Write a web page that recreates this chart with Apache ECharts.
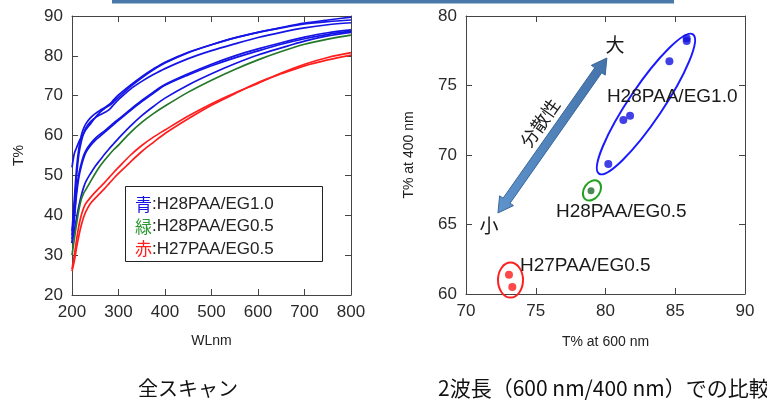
<!DOCTYPE html>
<html>
<head>
<meta charset="utf-8">
<script src="https://cdn.jsdelivr.net/npm/echarts@6/dist/echarts.min.js"></script>
<style>
html,body{margin:0;padding:0;background:#fff;}
#c{width:767px;height:401px;}
</style>
</head>
<body>
<div id="c"></div>
<script>
// ---------- data ----------
const WL = [200,205,210,215,220,225,230,240,250,260,270,280,290,300,325,350,375,400,450,500,550,600,650,700,750,800];
// blue: H28PAA/EG1.0
const blueA = [36,44,52,57,60,61.8,63,64.5,65.5,66.3,67,67.8,69,70.2,72.6,74.8,76.7,78.4,80.9,82.8,84.5,85.9,87.1,88.2,89.0,89.7];
const blueB = [52,55.5,57,58.5,59.5,60.5,61.5,63,64.5,65.8,66.8,67.5,68.5,69.6,72.2,74.5,76.5,78.2,80.8,82.8,84.5,85.9,87.0,88.0,88.6,89.0];
const blueC = [35,42,50,55.5,58.5,60.5,62,63.5,64.5,65.2,65.8,66.5,67.8,69,71.6,73.6,75.3,76.8,79.3,81.3,83,84.6,85.9,87,87.8,88.3];
const blueD = [34,40,46.5,50.5,53,55,56.3,58,59.3,60.3,61.2,62.2,63.2,64.1,66.5,68.8,70.9,72.8,75.5,77.9,80,81.75,83.3,84.7,85.8,86.5];
const blueE = [33,39,45.5,49.7,52.3,54.3,55.8,57.5,58.8,59.8,60.8,61.8,62.8,63.8,66.2,68.5,70.6,72.6,75.2,77.5,79.5,81.25,82.9,84.3,85.4,86.2];
const blueF = [33,36,39.5,42.5,45,47,48.5,50.5,52.3,53.8,55.3,56.7,58,59.3,62.3,65,67.3,69.4,72.7,75.5,78,80.2,82,83.7,85,85.9];
// green: H28PAA/EG0.5
const greenA = [30,34,38,41.5,44,45.5,46.5,48.5,50.5,52.3,53.8,55.2,56.5,57.6,60.7,63.3,65.5,67.4,70.9,73.9,76.6,79.0,81.1,82.9,84.2,85.2];
// red: H27PAA/EG0.5
const redA = [26.5,30,34,37.5,40,41.8,43,44.5,45.8,47,48.2,49.5,50.8,52,55,57.5,59.6,61.4,64.9,68,70.7,73.1,75.7,77.9,79.6,80.8];
const redB = [26,28.5,32,35,37.5,39.5,41,43,44.3,45.5,46.7,48,49.3,50.5,53.3,56,58.3,60.5,64.2,67.6,70.5,73.3,75.5,77.5,79.0,80.2];

// scatter: T% at 600 nm (x) vs T% at 400 nm (y)
const blue600 = [85.82,85.82,84.58,81.76,81.28,80.2];
const blue400 = [78.4,78.2,76.74,72.83,72.52,69.35];
const green600 = [78.96];
const green400 = [67.43];
const red600 = [73.08,73.32];
const red400 = [61.39,60.5];

// annotation anchors (data coords of right chart)
const ellipseCenters = [[82.9,73.67],[79.03,67.45],[73.19,61.0]];
const arrowEnds = [[72.29,65.83,80.1,76.98]];
const annoTexts = ['大','小','分散性','H28PAA/EG1.0','H28PAA/EG0.5','H27PAA/EG0.5'];
const annoPos = [[80.68,77.91],[71.65,64.89],[75.3,72.3],[80.1,74.17],[76.45,65.9],[73.87,62.01]];

const legendNames = ['青','緑','赤'];
const legendLabels = [':H28PAA/EG1.0',':H28PAA/EG0.5',':H27PAA/EG0.5'];

// ---------- styles ----------
const BLUE = '#1414e6', GREEN = '#23782a', RED = '#ff1e1e';
const ellipseStyles = [
  {rx:84, ry:17, rot:56, color:'#1a1aff'},
  {rx:11, ry:8, rot:55, color:'#22a022'},
  {rx:12.5, ry:17.5, rot:0, color:'#ff2020'}
];
const annoStyles = [
  {size:19, family:'Noto Sans CJK JP', align:'center', rot:0},
  {size:19, family:'Noto Sans CJK JP', align:'center', rot:0},
  {size:18, family:'Noto Sans CJK JP', align:'center', rot:55},
  {size:19, family:'Liberation Sans', align:'left', rot:0},
  {size:19, family:'Liberation Sans', align:'left', rot:0},
  {size:19, family:'Liberation Sans', align:'left', rot:0}
];

const AX = '#444', LBL = '#2a2a2a', FONT = 'Liberation Sans';

function mkX(grid, pos, min, max, iv, name, gap){
  return {
    gridIndex:grid, type:'value', position:pos, min:min, max:max, interval:iv,
    axisLine:{show:true, onZero:false, lineStyle:{color:AX, width:1}},
    axisTick:{show:true, inside:true, length:6, lineStyle:{color:AX}},
    splitLine:{show:false},
    axisLabel:{show:pos==='bottom', fontSize:17, color:LBL, fontFamily:FONT, margin:9},
    name: pos==='bottom'?name:'', nameLocation:'middle', nameGap:gap,
    nameTextStyle:{fontSize:14, color:'#222', fontFamily:FONT}
  };
}
function mkY(grid, pos, min, max, iv, name, gap){
  return {
    gridIndex:grid, type:'value', position:pos, min:min, max:max, interval:iv,
    axisLine:{show:true, onZero:false, lineStyle:{color:AX, width:1}},
    axisTick:{show:true, inside:true, length:6, lineStyle:{color:AX}},
    splitLine:{show:false},
    axisLabel:{show:pos==='left', fontSize:17, color:LBL, fontFamily:FONT, margin:9},
    name: pos==='left'?name:'', nameLocation:'middle', nameGap:gap,
    nameTextStyle:{fontSize:14, color:'#222', fontFamily:FONT}
  };
}

function lineSeries(arr, color){
  return {
    type:'line', xAxisIndex:0, yAxisIndex:0, showSymbol:false, symbol:'none',
    smooth:0.3,
    lineStyle:{color:color, width:1.7}, itemStyle:{color:color},
    data: WL.map((w,i)=>[w, arr[i]]), z:2, silent:true
  };
}
function scatterSeries(xs, ys, color, size){
  return {
    type:'scatter', xAxisIndex:2, yAxisIndex:2, symbolSize:size,
    itemStyle:{color:color},
    data: xs.map((x,i)=>[x, ys[i]]), z:4
  };
}

const option = {
  animation:false,
  backgroundColor:'#fff',
  grid:[
    {left:72, top:16, width:279, height:279},
    {left:466, top:16, width:279, height:278}
  ],
  xAxis:[
    mkX(0,'bottom',200,800,100,'WLnm',39),
    mkX(0,'top',200,800,100,'',0),
    mkX(1,'bottom',70,90,5,'T% at 600 nm',41),
    mkX(1,'top',70,90,5,'',0)
  ],
  yAxis:[
    mkY(0,'left',20,90,10,'T%',46),
    mkY(0,'right',20,90,10,'',0),
    mkY(1,'left',60,80,5,'T% at 400 nm',50),
    mkY(1,'right',60,80,5,'',0)
  ],
  series:[
    lineSeries(blueA, BLUE), lineSeries(blueB, BLUE), lineSeries(blueC, BLUE),
    lineSeries(blueD, BLUE), lineSeries(blueE, BLUE), lineSeries(blueF, BLUE),
    lineSeries(greenA, GREEN),
    lineSeries(redA, RED), lineSeries(redB, RED),
    scatterSeries(blue600, blue400, '#1010e0', 8),
    scatterSeries(green600, green400, '#1d6a2a', 7),
    scatterSeries(red600, red400, '#ff1a1a', 8),
    { // ellipses
      type:'custom', xAxisIndex:2, yAxisIndex:2, clip:false, z:3, silent:true,
      data: ellipseCenters,
      renderItem:function(params, api){
        const p = api.coord([api.value(0), api.value(1)]);
        const s = ellipseStyles[params.dataIndex];
        return {type:'ellipse', x:p[0], y:p[1], rotation:s.rot*Math.PI/180,
          shape:{cx:0, cy:0, rx:s.rx, ry:s.ry},
          style:{fill:'none', stroke:s.color, lineWidth:2}};
      }
    },
    { // double arrow
      type:'custom', xAxisIndex:2, yAxisIndex:2, clip:false, z:3, silent:true,
      data: arrowEnds,
      renderItem:function(params, api){
        const a = api.coord([api.value(0), api.value(1)]);
        const b = api.coord([api.value(2), api.value(3)]);
        const dx=b[0]-a[0], dy=b[1]-a[1], L=Math.hypot(dx,dy);
        const ux=dx/L, uy=dy/L, nx=-uy, ny=ux;
        const hl=15, hw=8.5, sw=4.3;
        const P=(base, t, n)=>[base[0]+ux*t+nx*n, base[1]+uy*t+ny*n];
        const pts=[b, P(b,-hl,hw), P(b,-hl,sw), P(a,hl,sw), P(a,hl,hw), a,
                   P(a,hl,-hw), P(a,hl,-sw), P(b,-hl,-sw), P(b,-hl,-hw)];
        return {type:'polygon', shape:{points:pts},
          style:{fill:new echarts.graphic.LinearGradient(0,0,1,0,[
              {offset:0,color:'#5f93cc'},{offset:1,color:'#4473aa'}]),
            stroke:'#3a679b', lineWidth:1}};
      }
    },
    { // annotation texts
      type:'custom', xAxisIndex:2, yAxisIndex:2, clip:false, z:5, silent:true,
      data: annoPos,
      renderItem:function(params, api){
        const p = api.coord([api.value(0), api.value(1)]);
        const s = annoStyles[params.dataIndex];
        return {type:'text', x:p[0], y:p[1], rotation:s.rot*Math.PI/180,
          style:{text:annoTexts[params.dataIndex], fontSize:s.size, fontFamily:s.family,
            fill:'#1a1a1a', align:s.align, verticalAlign:'middle'}};
      }
    }
  ],
  graphic:[
    {type:'rect', shape:{x:112, y:0, width:562, height:3.5}, style:{fill:'#4a78aa'}, silent:true},
    {type:'rect', shape:{x:125.5, y:186.5, width:197, height:75}, style:{fill:'#fff', stroke:'#222', lineWidth:1}, z:10},
  ].concat(legendNames.map((n,i)=>({
    type:'text', x:135, y:204.5+i*22.2, z:11,
    style:{text:'{c|'+n+'}'+legendLabels[i], fontSize:17, fontFamily:FONT, fill:'#222', verticalAlign:'middle',
      rich:{c:{fontSize:17, fontFamily:'Noto Sans CJK JP', fill:[BLUE,'#2e9a33',RED][i]}}}
  }))).concat([
    {type:'text', x:138, y:388, style:{text:'全スキャン', fontSize:20, fontFamily:'Noto Sans CJK JP', fill:'#111', verticalAlign:'middle'}},
    {type:'text', x:438, y:388, style:{text:'2波長（600 nm/400 nm）での比較', fontSize:21, fontFamily:'Noto Sans CJK JP', fill:'#111', verticalAlign:'middle'}}
  ])
};

const chart = echarts.init(document.getElementById('c'), null, {renderer:'canvas'});
chart.setOption(option);
</script>
</body>
</html>
